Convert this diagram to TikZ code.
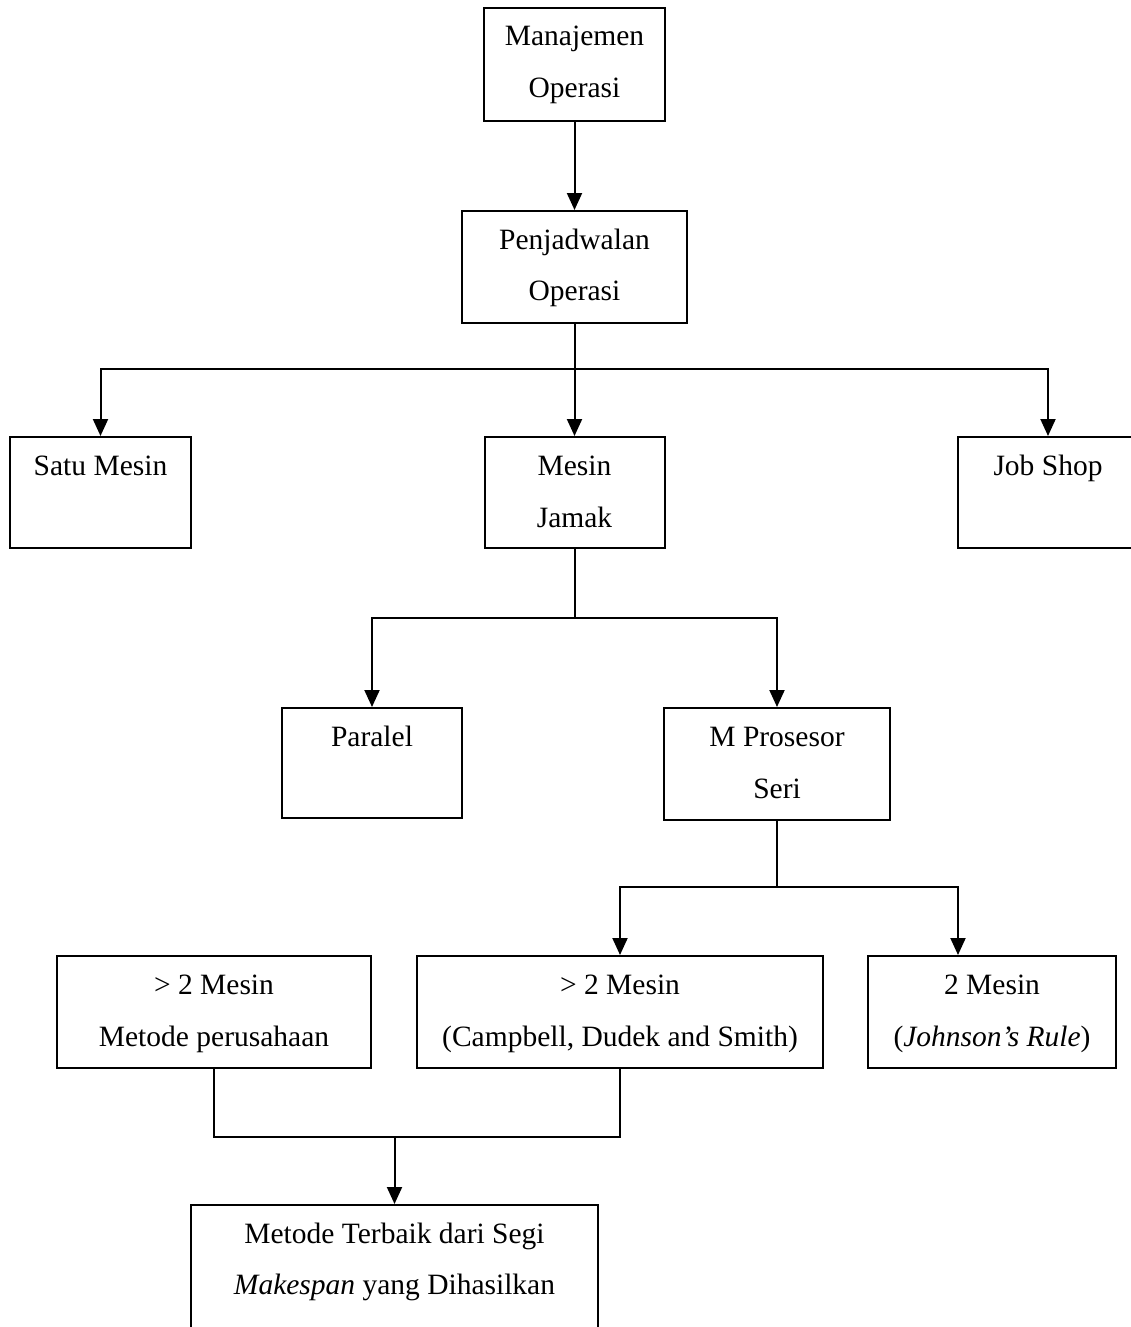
\documentclass[tikz,border=0pt]{standalone}
\usepackage{fontspec}
\setmainfont{Liberation Serif}
\usetikzlibrary{arrows.meta}
\begin{document}
\begin{tikzpicture}[x=1pt,y=-1pt,
  box/.style={draw, line width=2pt, rectangle, inner sep=0pt, minimum width=#1},
  txt/.style={anchor=base, inner sep=0pt, font=\fontsize{29.5}{52}\selectfont},
  conn/.style={line width=2pt},
  arr/.style={line width=2pt, -{Triangle[width=15pt,length=17pt]}}]
\useasboundingbox (0,0) rectangle (1131,1327);
\clip (0,0) rectangle (1131,1327);
% boxes
\node[box=181, minimum height=113] (man) at (574.5,64.5) {};
\node[box=225, minimum height=112] (pen) at (574.5,267) {};
\node[box=181, minimum height=111] (satu) at (100.5,492.5) {};
\node[box=180, minimum height=111] (jamak) at (574.5,492.5) {};
\node[box=180, minimum height=111] (job) at (1048,492.5) {};
\node[box=180, minimum height=110] (paralel) at (372,763) {};
\node[box=226, minimum height=112] (mpro) at (777,764) {};
\node[box=314, minimum height=112] (metper) at (214,1012) {};
\node[box=406, minimum height=112] (camp) at (620,1012) {};
\node[box=248, minimum height=112] (john) at (992,1012) {};
\node[box=407, minimum height=140] (terb) at (394.5,1275) {};
% texts
\node[txt] (man1) at (574.5,46) {Manajemen};
\node[txt] (man2) at (574.5,98) {Operasi};
\node[txt] (pen1) at (574.5,249) {Penjadwalan};
\node[txt] (pen2) at (574.5,300) {Operasi};
\node[txt] (satu1) at (100.5,475) {Satu Mesin};
\node[txt] (jamak1) at (574.5,475) {Mesin};
\node[txt] (jamak2) at (574.5,527) {Jamak};
\node[txt] (job1) at (1048,475) {Job Shop};
\node[txt] (paralel1) at (372,746) {Paralel};
\node[txt] (mpro1) at (777,746) {M Prosesor};
\node[txt] (mpro2) at (777,798) {Seri};
\node[txt] (metper1) at (214,994) {> 2 Mesin};
\node[txt] (metper2) at (214,1046) {Metode perusahaan};
\node[txt] (camp1) at (620,994) {> 2 Mesin};
\node[txt] (camp2) at (620,1046) {(Campbell, Dudek and Smith)};
\node[txt] (john1) at (992,994) {2 Mesin};
\node[txt] (john2) at (992,1046) {(\textit{Johnson’s Rule})};
\node[txt] (terb1) at (394.5,1243) {Metode Terbaik dari Segi};
\node[txt] (terb2) at (394.5,1294) {\textit{Makespan} yang Dihasilkan};
% connectors
\draw[arr] (man.south) -- (pen.north);
\coordinate (j1) at (574.5,369);
\draw[conn] (pen.south) -- (j1);
\draw[arr] (j1) -| (satu.north);
\draw[arr] (j1) -| (job.north);
\draw[arr] (j1) -- (jamak.north);
\coordinate (j2) at (574.5,618);
\draw[conn] (jamak.south) -- (j2);
\draw[arr] (j2) -| (paralel.north);
\draw[arr] (j2) -| (mpro.north);
\coordinate (j3) at (777,887);
\draw[conn] (mpro.south) -- (j3);
\draw[arr] (j3) -| (camp.north);
\draw[arr] (j3) -| ([xshift=-34pt]john.north);
\coordinate (j4) at (394.5,1137);
\draw[conn] (metper.south) |- (j4) -| (camp.south);
\draw[arr] (j4) -- (terb.north);
\end{tikzpicture}
\end{document}
